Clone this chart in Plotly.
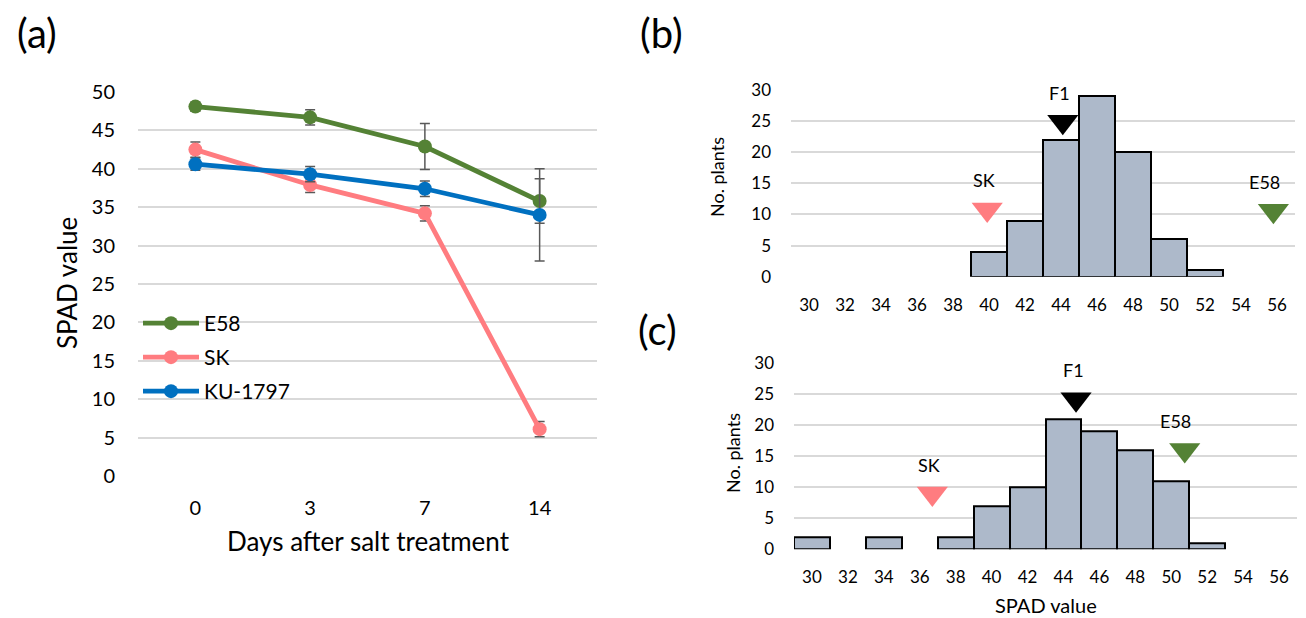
import plotly.graph_objects as go

# ---------------- data ----------------
days = ["0", "3", "7", "14"]
e58_mean = [48.1, 46.7, 42.9, 35.8]
e58_err = [0.6, 1.0, 3.0, 2.9]
sk_mean = [42.5, 37.9, 34.2, 6.1]
sk_err = [1.0, 1.0, 1.0, 1.0]
ku_mean = [40.6, 39.3, 37.4, 34.0]
ku_err = [0.8, 1.0, 1.0, 6.0]

spad_bins = [30, 32, 34, 36, 38, 40, 42, 44, 46, 48, 50, 52, 54, 56]
counts_b = [0, 0, 0, 0, 0, 4, 9, 22, 29, 20, 6, 1, 0, 0]
counts_c = [2, 0, 2, 0, 2, 7, 10, 21, 19, 16, 11, 1, 0, 0]

parent_names = ["SK", "F1", "E58"]
parent_b_x = [39.9, 44.1, 55.8]
parent_b_y = [10.8, 24.9, 10.6]
parent_c_x = [36.7, 44.7, 50.75]
parent_c_y = [9.0, 24.2, 16.0]

# ---------------- styles ----------------
FONT = "Lato"
GREEN = "#548235"
PINK = "#ff7c80"
BLUE = "#0070c0"
GRID = "#d9d9d9"
BARFILL = "#adb9ca"
ERRC = "#595959"
parent_colors = [PINK, "#000000", GREEN]

W, H = 1306, 618
OFF = 8  # page body margin in the browser


def fx(x):
    return (x - OFF) / W


def fy(y):
    return 1 - (y - OFF) / H


fig = go.Figure()

series = [("E58", e58_mean, e58_err, GREEN),
          ("SK", sk_mean, sk_err, PINK),
          ("KU-1797", ku_mean, ku_err, BLUE)]
for name, m, e, c in series:
    fig.add_trace(go.Scatter(
        x=days, y=m, name=name, mode="lines+markers", legendgroup=name,
        line=dict(color=c, width=4.8), marker=dict(color=c, size=14),
        error_y=dict(type="data", array=e, visible=True, color=ERRC,
                     thickness=1.5, width=5),
        xaxis="x", yaxis="y"))

for counts, xa, ya in [(counts_b, "x2", "y2"), (counts_c, "x3", "y3")]:
    fig.add_trace(go.Bar(
        x=spad_bins, y=[v if v else None for v in counts], width=2,
        marker=dict(color=BARFILL, line=dict(color="black", width=2)),
        showlegend=False, xaxis=xa, yaxis=ya))

for px, py, xa, ya in [(parent_b_x, parent_b_y, "x2", "y2"),
                       (parent_c_x, parent_c_y, "x3", "y3")]:
    fig.add_trace(go.Scatter(
        x=px, y=py, mode="markers", showlegend=False,
        marker=dict(symbol="triangle-down", size=27, color=parent_colors,
                    line=dict(width=0)),
        xaxis=xa, yaxis=ya))

annotations = []
for px, py, xa, ya in [(parent_b_x, parent_b_y, "x2", "y2"),
                       (parent_c_x, parent_c_y, "x3", "y3")]:
    for n, xv, yv in zip(parent_names, px, py):
        annotations.append(dict(
            x=xv, y=yv, xref=xa, yref=ya, text=n, showarrow=False,
            yshift=29, xshift=(-9 if n == "E58" else -3),
            font=dict(size=18, color="black", family=FONT)))


def paper_text(text, x, y, size, angle=0):
    return dict(text=text, x=fx(x), y=fy(y), xref="paper",
                yref="paper", showarrow=False, textangle=angle,
                xanchor="center", yanchor="middle",
                font=dict(size=size, color="black", family=FONT))


annotations += [
    paper_text("(a)", 37, 33, 40),
    paper_text("(b)", 661, 33, 40),
    paper_text("(c)", 657, 330, 40),
    paper_text("SPAD value", 67, 283, 26, -90),
    paper_text("Days after salt treatment", 368, 541, 26),
    paper_text("No. plants", 717, 177, 18, -90),
    paper_text("No. plants", 733, 453, 18, -90),
    paper_text("SPAD value", 1046, 605, 20),
]

axis_common = dict(showline=False, zeroline=False, ticks="", automargin=False)

fig.update_layout(
    width=W, height=H, autosize=False,
    margin=dict(l=0, r=0, t=0, b=0, pad=0, autoexpand=False),
    paper_bgcolor="white", plot_bgcolor="white",
    font=dict(family=FONT, color="black"),
    bargap=0,
    showlegend=True,
    legend=dict(x=fx(138), y=fy(303), xanchor="left", yanchor="top",
                bgcolor="rgba(0,0,0,0)", font=dict(size=21, family=FONT),
                tracegroupgap=3.7, itemwidth=56),
    annotations=annotations,
    xaxis=dict(domain=[fx(138), fx(597)], type="category",
               range=[-0.5, 3.5], showgrid=False, anchor="y",
               tickfont=dict(size=20), ticklabelstandoff=18, **axis_common),
    yaxis=dict(domain=[fy(476), fy(92)], range=[0, 50],
               dtick=5, showgrid=True, gridcolor=GRID, gridwidth=1.5,
               anchor="x", tickfont=dict(size=20), ticklabelstandoff=22,
               **axis_common),
    xaxis2=dict(domain=[fx(791), fx(1295)], range=[29, 57],
                tickvals=spad_bins, showgrid=False, anchor="y2",
                tickfont=dict(size=17), ticklabelstandoff=16, **axis_common),
    yaxis2=dict(domain=[fy(276.7), fy(90)], range=[0, 30],
                dtick=5, showgrid=True, gridcolor=GRID, gridwidth=1.5,
                anchor="x2", tickfont=dict(size=17), ticklabelstandoff=19,
                **axis_common),
    xaxis3=dict(domain=[fx(794), fx(1297)], range=[29, 57],
                tickvals=spad_bins, showgrid=False, anchor="y3",
                tickfont=dict(size=17), ticklabelstandoff=16, **axis_common),
    yaxis3=dict(domain=[fy(549.3), fy(363.3)],
                range=[0, 30], dtick=5, showgrid=True, gridcolor=GRID,
                gridwidth=1.5, anchor="x3", tickfont=dict(size=17),
                ticklabelstandoff=19, **axis_common),
)

fig.write_html("out.html")
